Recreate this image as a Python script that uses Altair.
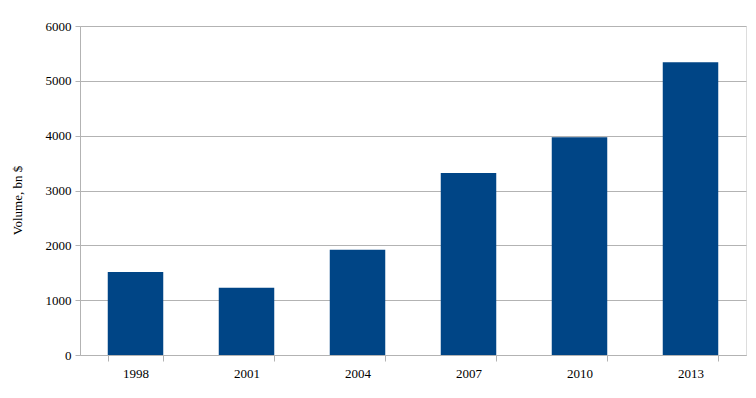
import altair as alt
import pandas as pd

years = ["1998", "2001", "2004", "2007", "2010", "2013"]
volumes = [1515, 1228, 1920, 3320, 3970, 5340]

df = pd.DataFrame({"year": years, "volume": volumes})

grid = "#b3b3b3"
font = "'Liberation Serif', 'Times New Roman', serif"

chart = (
    alt.Chart(df)
    .mark_bar(color="#004586")
    .encode(
        x=alt.X(
            "year:N",
            sort=years,
            title=None,
            scale=alt.Scale(paddingInner=0.5, paddingOuter=0.25),
            axis=alt.Axis(
                labelAngle=0,
                tickBand="extent",
                tickSize=6,
                labelPadding=6,
                domainColor=grid,
                tickColor=grid,
                labelFont=font,
                labelFontSize=13,
                labelColor="#000000",
                grid=False,
            ),
        ),
        y=alt.Y(
            "volume:Q",
            title="Volume, bn $",
            scale=alt.Scale(domain=[0, 6000]),
            axis=alt.Axis(
                values=[0, 1000, 2000, 3000, 4000, 5000, 6000],
                format="d",
                tickSize=5,
                labelPadding=4,
                domainColor=grid,
                tickColor=grid,
                gridColor=grid,
                labelFont=font,
                labelFontSize=13,
                labelColor="#000000",
                titleFont=font,
                titleFontSize=13,
                titleFontWeight="normal",
                titleColor="#000000",
                titleX=-63,
                titleY=174,
                titleAlign="center",
                titleBaseline="middle",
                titleAngle=270,
            ),
        ),
    )
    .properties(
        width=666,
        height=329,
        autosize=alt.AutoSizeParams(type="none"),
        padding={"left": 72, "top": 18, "right": 2, "bottom": 35},
    )
    .configure_view(stroke=grid, strokeWidth=1)
    .configure(background="white", font=font)
)

chart.save("out.html", embed_options={"renderer": "svg", "actions": False})
